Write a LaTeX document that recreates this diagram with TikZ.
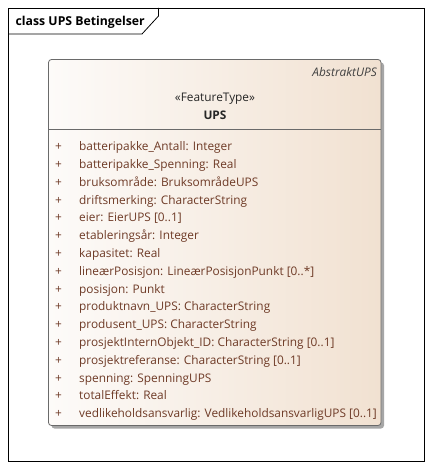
\documentclass[tikz,border=0pt]{standalone}
\usepackage{fontspec}
\setmainfont{Open Sans}
\definecolor{attr}{HTML}{6E3A26}
\definecolor{boxl}{HTML}{FDFBF9}
\definecolor{boxr}{HTML}{F1E1D1}
\definecolor{boxline}{HTML}{6A6A6A}
\newcommand{\fs}{\fontsize{11.9}{14}\selectfont}
\begin{document}
\begin{tikzpicture}[x=1bp,y=-1bp,
  attrtext/.style={anchor=base west,inner sep=0pt,text=attr,font=\fs},
  plus/.style={anchor=base,inner sep=0pt,text=attr,font=\fs}]
\useasboundingbox (0,0) rectangle (431,469);
\fill[white] (0,0) rectangle (431,469);
% frame
\draw[black,line width=0.8pt] (8,8) rectangle (424,461);
\draw[black,line width=0.8pt] (8,34) -- (142,34) -- (158.5,16) -- (158.5,8);
\node[anchor=base west,inner sep=0pt,font=\bfseries\fontsize{12.3}{14}\selectfont] (title) at (15.5,25.3) {class UPS Betingelser};
% shadow
\fill[black!35,rounded corners=3bp] (51.5,62.5) rectangle (384,428.5);
% class box
\shade[left color=boxl,right color=boxr,rounded corners=3bp] (48.5,59.5) rectangle (381,425.5);
\draw[boxline,line width=0.8pt,rounded corners=3bp] (48.5,59.5) rectangle (381,425.5);
\draw[boxline,line width=0.8pt] (48.5,129.5) -- (381,129.5);
\node[anchor=east,inner sep=0pt,text=black!75,font=\itshape\fs] (abs) at (377,72) {AbstraktUPS};
\node[inner sep=0pt,text=black!85,font=\fs] (st) at (215,99) {«FeatureType»};
\node[inner sep=0pt,text=black!85,font=\bfseries\fs] (name) at (215,115.7) {UPS};
\foreach \t [count=\i] in {
  {batteripakke\_Antall: Integer},
  {batteripakke\_Spenning: Real},
  {bruksområde: BruksområdeUPS},
  {driftsmerking: CharacterString},
  {eier: EierUPS [0..1]},
  {etableringsår: Integer},
  {kapasitet: Real},
  {lineærPosisjon: LineærPosisjonPunkt [0..*]},
  {posisjon: Punkt},
  {produktnavn\_UPS: CharacterString},
  {produsent\_UPS: CharacterString},
  {prosjektInternObjekt\_ID: CharacterString [0..1]},
  {prosjektreferanse: CharacterString [0..1]},
  {spenning: SpenningUPS},
  {totalEffekt: Real},
  {vedlikeholdsansvarlig: VedlikeholdsansvarligUPS [0..1]}}
{
  \node[plus] (p\i) at (58.5,{150.7+(\i-1)*17.8}) {+};
  \node[attrtext] (a\i) at (79,{150.7+(\i-1)*17.8}) {\t};
}
\end{tikzpicture}
\end{document}
